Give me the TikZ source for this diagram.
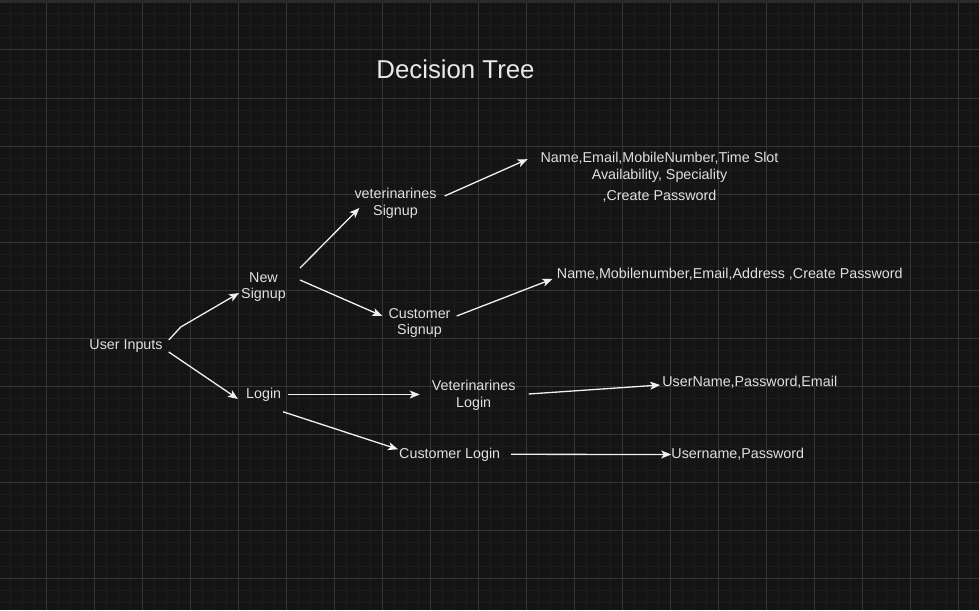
\documentclass[tikz,border=0pt]{standalone}
\usepackage{fontspec}
\setmainfont{Liberation Sans}
\usetikzlibrary{arrows.meta,calc}

\definecolor{canvas}{HTML}{141414}
\definecolor{gridminor}{HTML}{1C1C1C}
\definecolor{gridmajor}{HTML}{363636}
\definecolor{topbar}{HTML}{2B2B2B}
\definecolor{labeltext}{HTML}{E0E0E0}
\definecolor{linkcol}{HTML}{F0F0F0}

\begin{document}
\begin{tikzpicture}[
        x=1pt, y=-1pt,
        lbl/.style={inner sep=0pt, align=center, text=labeltext,
                    font=\fontsize{14.3}{16.7}\selectfont},
        heading/.style={inner sep=0pt, text=labeltext!70!white,
                    font=\fontsize{25.8}{30}\selectfont},
        arrow/.style={-{Stealth[length=10pt, width=8pt, inset=2.5pt]},
                      draw=linkcol, line width=1.3pt}
    ]
        \useasboundingbox (0,0) rectangle (979,610);
        \fill[canvas] (0,0) rectangle (979,610);
        \foreach \x in {10,22,...,978} \draw[gridminor, line width=1pt] (\x,3) -- (\x,610);
        \foreach \y in {14,26,...,610} \draw[gridminor, line width=1pt] (0,\y) -- (979,\y);
        \foreach \x in {46,94,...,978} \draw[gridmajor, line width=1pt] (\x,3) -- (\x,610);
        \foreach \y in {50,98,...,610} \draw[gridmajor, line width=1pt] (0,\y) -- (979,\y);
        \fill[topbar] (0,0) rectangle (979,3);

        \node[heading] (title) at (455.5,69.5) {Decision Tree};

        \node[lbl] (ui) at (126,346) {User Inputs};
        \node[lbl] (ns) at (263.5,287) {New\\Signup};
        \node[lbl] (login) at (263.7,394.5) {Login};
        \node[lbl] (vs) at (395.5,203) {veterinarines\\Signup};
        \node[lbl] (cs) at (419.5,323) {Customer\\Signup};
        \node[lbl] (vl) at (473.7,395) {Veterinarines\\Login};
        \node[lbl] (cl) at (449.7,454.3) {Customer Login};
        \node[lbl] (nd) at (659.5,177) {Name,Email,MobileNumber,Time Slot\\Availability, Speciality\\[4.3pt],Create Password};
        \node[lbl] (nc) at (729.8,274) {Name,Mobilenumber,Email,Address ,Create Password};
        \node[lbl] (ue) at (749.8,382.5) {UserName,Password,Email};
        \node[lbl] (up) at (737.8,454.5) {Username,Password};

        \draw[arrow] ($(ui.east)+(6,-6)$) -- ++(12,-13) -- ($(ns.west)+(-2,6)$);
        \draw[arrow] ($(ui.east)+(6,6)$) -- ($(login.west)+(-8,4.5)$);
        \draw[arrow] ($(ns.north east)+(14,-4)$) -- ($(vs.west)+(5,5)$);
        \draw[arrow] ($(ns.east)+(14,-7)$) -- ($(cs.west)+(-6,-7)$);
        \draw[arrow] ($(vs.east)+(8,-7)$) -- ($(nd.north west)+(-12.7,7.3)$);
        \draw[arrow] ($(cs.east)+(6,-7)$) -- ($(nc.west)+(-4.3,5)$);
        \draw[arrow] ($(login.east)+(7,0)$) -- ($(vl.west)+(-12,-0.5)$);
        \draw[arrow] ($(login.south east)+(1.6,10.4)$) -- ($(cl.west)+(-1,-5)$);
        \draw[arrow] ($(vl.east)+(13,-1)$) -- ($(ue.west)+(-2,2.5)$);
        \draw[arrow] ($(cl.east)+(10.7,0)$) -- (up.west);
    \end{tikzpicture}
\end{document}
